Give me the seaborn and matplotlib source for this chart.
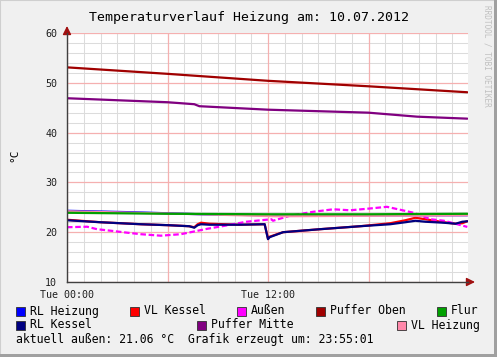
import numpy as np
import pandas as pd
import matplotlib
matplotlib.use("Agg")
import matplotlib.pyplot as plt
from matplotlib.patches import Rectangle
import seaborn as sns

# ---------------- data (hours since Tue 00:00) ----------------
puffer_oben_h = [0, 6, 12, 18, 23.9]
puffer_oben_v = [53.1, 51.8, 50.4, 49.3, 48.1]

puffer_mitte_h = [0, 6, 7.6, 7.9, 12, 18, 20.9, 23.9]
puffer_mitte_v = [46.9, 46.1, 45.7, 45.3, 44.6, 44.0, 43.2, 42.8]

flur_h = [0, 6, 12, 18, 23.9]
flur_v = [23.9, 23.7, 23.6, 23.6, 23.7]

rl_heizung_h = [0, 4, 8, 12, 18, 23.9]
rl_heizung_v = [24.3, 24.0, 23.6, 23.4, 23.4, 23.4]

vl_heizung_h = [0, 4, 8, 12.5, 18, 23.9]
vl_heizung_v = [24.2, 23.9, 23.6, 23.2, 23.3, 23.4]

kessel_h = [0, 2, 4.4, 6.1, 7.3, 7.6, 7.8, 8.0, 8.5, 10.3, 11.8, 12.0, 12.1, 12.9,
            15.1, 17.5, 19.3, 20.2, 20.8, 21.4, 22.5, 23.2, 23.6, 23.9]
vl_kessel_v = [22.5, 22.0, 21.6, 21.4, 21.2, 21.0, 21.6, 21.9, 21.7, 21.5, 21.6, 18.7, 19.1, 20.0,
               20.6, 21.2, 21.8, 22.4, 22.9, 22.6, 22.0, 21.7, 21.8, 22.2]
rl_kessel_v = [22.4, 22.0, 21.6, 21.4, 21.2, 20.9, 21.4, 21.6, 21.5, 21.5, 21.6, 18.6, 19.0, 20.0,
               20.6, 21.2, 21.6, 22.0, 22.3, 22.1, 21.9, 21.7, 22.1, 22.2]

aussen_h = [0, 1.2, 1.8, 2.6, 3.6, 4.4, 5.6, 6.8, 8.4, 9.6, 10.7, 12.2, 12.3, 13.3, 14.7,
            15.9, 16.9, 17.9, 19.1, 19.9, 20.7, 21.7, 22.5, 23.3, 23.9]
aussen_v = [21.0, 21.1, 20.6, 20.3, 19.9, 19.6, 19.3, 19.6, 20.7, 21.4, 22.1, 22.6, 22.3, 23.3, 24.1,
            24.6, 24.4, 24.7, 25.1, 24.5, 23.9, 22.6, 22.3, 21.6, 21.06]

# ---------------- figure ----------------
W, H = 497, 357
fig = plt.figure(figsize=(W / 100, H / 100), dpi=100, facecolor="#F0F0F0")
sns.set_style("white")
plt.rcParams["font.family"] = ["DejaVu Sans Mono"]

L, R, T, B = 67, 468, 33, 282
ax = fig.add_axes([L / W, 1 - B / H, (R - L) / W, (B - T) / H])
ax.set_facecolor("white")

lw = 1.6
series = [
    ("RL Heizung", rl_heizung_h, rl_heizung_v, "#0000FF", "-"),
    ("VL Kessel", kessel_h, vl_kessel_v, "#FF0000", "-"),
    ("Außen", aussen_h, aussen_v, "#FF00FF", (0, (2.5, 1.2))),
    ("Puffer Oben", puffer_oben_h, puffer_oben_v, "#A00000", "-"),
    ("VL Heizung", vl_heizung_h, vl_heizung_v, "#FF88AA", "-"),
    ("Flur", flur_h, flur_v, "#00A000", "-"),
    ("RL Kessel", kessel_h, rl_kessel_v, "#000080", "-"),
    ("Puffer Mitte", puffer_mitte_h, puffer_mitte_v, "#800080", "-"),
]
for name, hx, vy, col, ls in series:
    df = pd.DataFrame({"h": hx, "v": vy})
    sns.lineplot(data=df, x="h", y="v", ax=ax, color=col, lw=lw, linestyle=ls,
                 legend=False, zorder=3)

xmax = (R - L) / 16.75
ax.set_xlim(0, xmax)
ax.set_ylim(10, 60)
ax.set_xlabel("")
ax.set_ylabel("")

# grid
ax.set_xticks(np.arange(0, 24, 1), minor=True)
ax.set_xticks([0, 12], labels=["Tue 00:00", "Tue 12:00"])
ax.set_yticks(np.arange(10, 61, 2), minor=True)
ax.set_yticks(np.arange(10, 61, 10))
ax.grid(which="minor", color="#DCDCDC", lw=0.75, zorder=0)
for xv in [0, 6, 12, 18]:
    ax.axvline(xv, color="#F5B0B0", lw=0.9, zorder=1)
for yv in range(10, 61, 10):
    ax.axhline(yv, color="#F5B0B0", lw=0.9, zorder=1)
ax.tick_params(which="both", length=2, color="#F0A0A0", labelsize=7.2,
               labelcolor="#202020", pad=5)
ax.tick_params(axis="x", pad=3.5)

for s in ["top", "right"]:
    ax.spines[s].set_visible(False)
for s in ["left", "bottom"]:
    ax.spines[s].set_color("#404040")
    ax.spines[s].set_linewidth(1.0)
    ax.spines[s].set_zorder(5)

# arrows
ax.annotate("", xy=(1 + 7 / (R - L), 0), xytext=(1, 0), xycoords="axes fraction",
            arrowprops=dict(arrowstyle="-|>,head_length=0.5,head_width=0.25",
                            color="#A01010", lw=1.0, shrinkA=0, shrinkB=0),
            annotation_clip=False)
ax.annotate("", xy=(0, 1 + 7 / (B - T)), xytext=(0, 1), xycoords="axes fraction",
            arrowprops=dict(arrowstyle="-|>,head_length=0.5,head_width=0.25",
                            color="#A01010", lw=1.0, shrinkA=0, shrinkB=0),
            annotation_clip=False)

# texts
fig.text(249 / W, 1 - 17 / H, "Temperaturverlauf Heizung am: 10.07.2012",
         ha="center", va="center", fontsize=9.5, color="#000000")
fig.text(14 / W, 1 - 155 / H, "°C", rotation=90, ha="center", va="center",
         fontsize=8, color="#000000")
fig.text(487 / W, 1 - 5 / H, "RRDTOOL / TOBI OETIKER", rotation=-90, ha="center",
         va="top", fontsize=5.6, color="#C0C0C0")

# legend
legend_items = [
    ("RL Heizung", "#0000FF", 16, 30, 311),
    ("VL Kessel", "#FF0000", 130, 144, 311),
    ("Außen", "#FF00FF", 237, 251, 311),
    ("Puffer Oben", "#A00000", 316, 330, 311),
    ("Flur", "#00A000", 437, 451, 311),
    ("RL Kessel", "#000080", 16, 30, 325),
    ("Puffer Mitte", "#800080", 197, 211, 325),
    ("VL Heizung", "#FF88AA", 397, 411, 325),
]
for name, col, sx, tx, cy in legend_items:
    fig.patches.append(Rectangle((sx / W, 1 - (cy + 4.5) / H), 9 / W, 9 / H,
                                 transform=fig.transFigure, facecolor=col,
                                 edgecolor="#303030", lw=0.6))
    fig.text(tx / W, 1 - cy / H, name, ha="left", va="center", fontsize=8.3,
             color="#000000")
fig.text(16 / W, 1 - 339 / H, "aktuell außen: 21.06 °C  Grafik erzeugt um: 23:55:01",
         ha="left", va="center", fontsize=8.3, color="#000000")

# bevel border
fig.patches.append(Rectangle((0, 0), 1, 1, transform=fig.transFigure, fill=False,
                             edgecolor="#CFCFCF", lw=1.5))
fig.patches.append(Rectangle((1 - 3 / W, 0), 3 / W, 1, transform=fig.transFigure,
                             facecolor="#A0A0A0", edgecolor="none"))
fig.patches.append(Rectangle((0, 0), 1, 3 / H, transform=fig.transFigure,
                             facecolor="#A0A0A0", edgecolor="none"))

fig.savefig("out.png", dpi=100, facecolor=fig.get_facecolor())
